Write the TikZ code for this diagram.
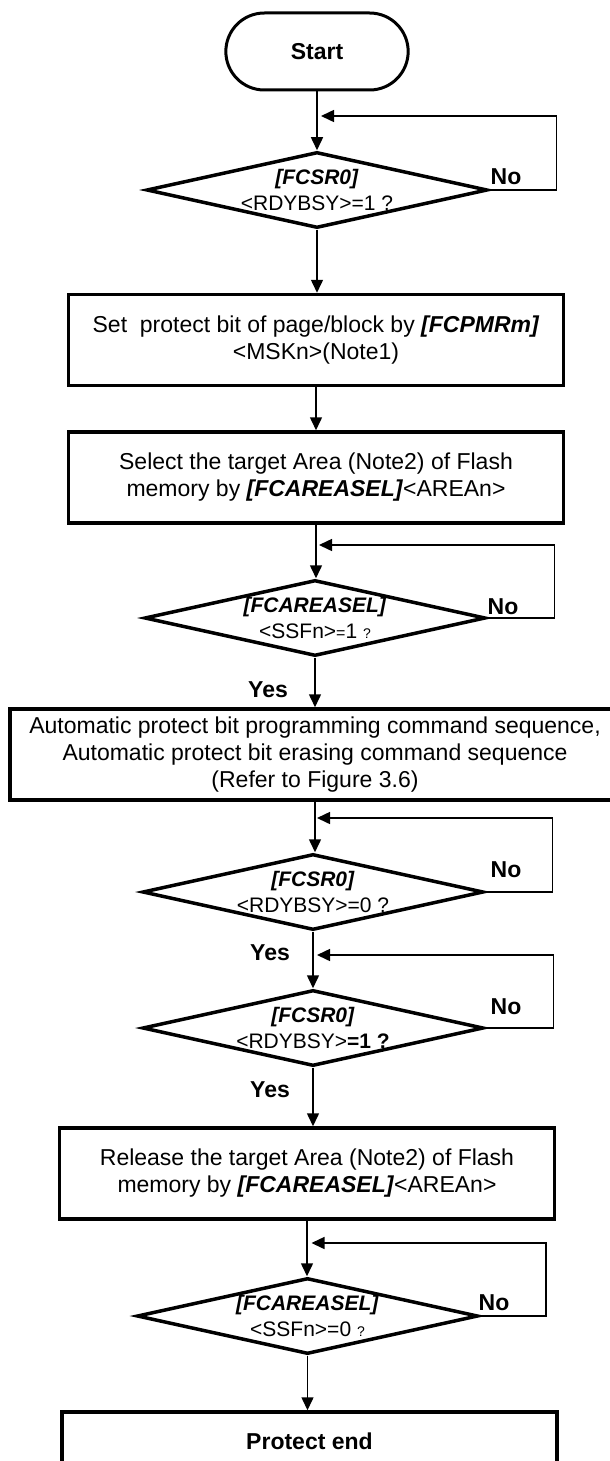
\documentclass[tikz,border=0pt]{standalone}
\usepackage{fontspec}
\setmainfont{Liberation Sans}
\usetikzlibrary{shapes,arrows.meta,calc}
\tikzset{
  >={Triangle[length=13pt,width=12pt]},
  terminal/.style={rounded rectangle, draw, line width=3pt, minimum width=189pt,
                   minimum height=77pt, font=\fontsize{23}{27}\selectfont\bfseries},
  process/.style={rectangle, draw, line width=3.5pt, minimum width=495pt,
                  minimum height=91pt, align=center, font=\fontsize{23}{27}\selectfont},
  decision/.style={diamond, draw, line width=3.5pt, inner sep=0pt,
                   minimum width=341pt, minimum height=76pt},
  dtext/.style={align=center, inner sep=0pt, font=\fontsize{21}{26}\selectfont},
  answer/.style={inner sep=0pt, font=\fontsize{23}{27}\selectfont\bfseries},
  line/.style={draw, line width=1.5pt},
  flow/.style={line, ->},
  back/.style={line, ->, shorten >=4pt}
}
\newcommand{\regname}[1]{\textbf{\textit{#1}}}
\newcommand{\tinyq}{{\fontsize{14}{14}\selectfont ?}}

\begin{document}
\begin{tikzpicture}[x=1pt,y=-1pt]
  \useasboundingbox (0,0) rectangle (610,1461);

  % Start and wait until the flash is ready.
  \node[terminal] (start) at (317,51.5) {Start};
  \node[decision] (chk1) at (317,190) {};
  \node[dtext] (chk1t) at (chk1.center) {\regname{[FCSR0]}\\<RDYBSY>=1 ?};
  \coordinate (j1) at (317,116);
  \node[answer] (no1) at (506,177) {No};

  % Protect bit and area selection.
  \node[process] (mask) at (316,340)
    {Set\ \ protect bit of page/block by \regname{[FCPMRm]}\\<MSKn>(Note1)};
  \node[process] (sel) at (316,477.5)
    {Select the target Area (Note2) of Flash\\memory by \regname{[FCAREASEL]}<AREAn>};

  \node[decision] (chk2) at (315,618) {};
  \node[dtext] (chk2t) at (chk2.center)
    {\regname{[FCAREASEL]}\\<SSFn>{\fontsize{16}{16}\selectfont=}1 \tinyq};
  \coordinate (j2) at (315,545);
  \node[answer] (no2) at (503,607) {No};
  \node[answer] (yes2) at (268,690) {Yes};

  % Command sequence.
  \node[process, minimum width=610pt] (cmd) at (315,754.5)
    {Automatic protect bit programming command sequence,\\Automatic protect bit erasing command sequence\\(Refer to Figure 3.6)};

  \node[decision] (chk3) at (313,892) {};
  \node[dtext] (chk3t) at (chk3.center) {\regname{[FCSR0]}\\<RDYBSY>=0 ?};
  \coordinate (j3) at (313,818);
  \node[answer] (no3) at (506,870) {No};
  \node[answer] (yes3) at (270,953) {Yes};

  \node[decision] (chk4) at (313,1028) {};
  \node[dtext] (chk4t) at (chk4.center) {\regname{[FCSR0]}\\<RDYBSY>\textbf{=1 ?}};
  \coordinate (j4) at (313,955);
  \node[answer] (no4) at (506,1007) {No};
  \node[answer] (yes4) at (270,1090) {Yes};

  % Release the area.
  \node[process] (rel) at (307,1173.5)
    {Release the target Area (Note2) of Flash\\memory by \regname{[FCAREASEL]}<AREAn>};

  \node[decision] (chk5) at (307.5,1316) {};
  \node[dtext] (chk5t) at (chk5.center) {\regname{[FCAREASEL]}\\<SSFn>=0 \tinyq};
  \coordinate (j5) at (307.5,1243);
  \node[answer] (no5) at (494,1303) {No};

  \node[process, minimum height=58pt] (stop) at (309.5,1441) {\textbf{Protect end}};

  % Draw main flow.
  \draw[flow] (start.south) -- (start.south |- chk1.north);
  \draw[flow] (chk1.south) -- (chk1.south |- mask.north);
  \draw[flow] (mask.south) -- (mask.south |- sel.north);
  \draw[flow] (sel.south) -- (sel.south |- chk2.north);
  \draw[flow] (chk2.south) -- (chk2.south |- cmd.north);
  \draw[flow] (cmd.south) -- (cmd.south |- chk3.north);
  \draw[flow] (chk3.south) -- (chk3.south |- chk4.north);
  \draw[flow] (chk4.south) -- (chk4.south |- rel.north);
  \draw[flow] (rel.south) -- (rel.south |- chk5.north);
  \draw[flow] (chk5.south) -- (chk5.south |- stop.north);

  % Draw "No" loops back.
  \draw[back] (chk1.east) -- ++(67,0) |- (j1);
  \draw[back] (chk2.east) -- ++(67,0) |- (j2);
  \draw[back] (chk3.east) -- ++(67,0) |- (j3);
  \draw[back] (chk4.east) -- ++(68,0) |- (j4);
  \draw[back] (chk5.east) -- ++(66,0) |- (j5);
\end{tikzpicture}
\end{document}
